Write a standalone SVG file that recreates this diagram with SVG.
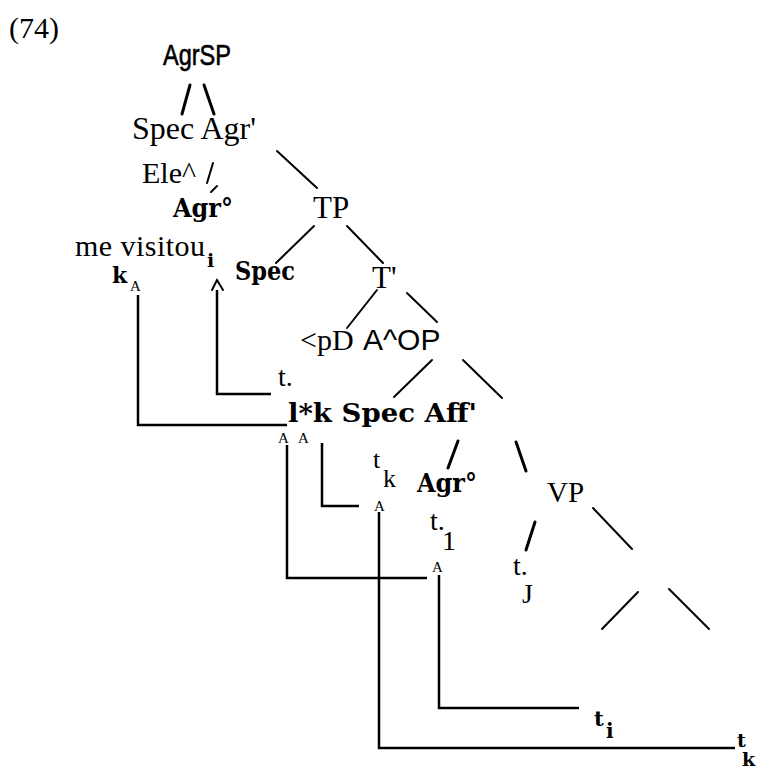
<svg xmlns="http://www.w3.org/2000/svg" width="764" height="774" viewBox="0 0 764 774">
<style>
.s{font-family:"Liberation Serif","Times New Roman",serif;fill:#000}
.a{font-family:"Liberation Sans",Arial,sans-serif;fill:#000}
.m{font-family:"DejaVu Serif","Liberation Serif",serif;font-weight:bold;fill:#000}
.e{stroke:#000;stroke-width:2;fill:none;stroke-linecap:round}
.t{stroke:#000;stroke-width:3;fill:none;stroke-linecap:round}
.b{stroke:#000;stroke-width:2.5;fill:none;stroke-linejoin:miter}
</style>
<rect width="764" height="774" fill="#fff"/>
<g id="label"><text class="s" x="9" y="38" font-size="30">(74)</text></g>
<g id="AgrSP"><text class="a" x="163" y="65" font-size="29" stroke="#000" stroke-width="0.6" textLength="68" lengthAdjust="spacingAndGlyphs">AgrSP</text></g>
<g id="SpecAgr"><text class="s" x="132" y="139" font-size="32">Spec Agr'</text></g>
<g id="Ele"><text class="s" x="142" y="183" font-size="30">Ele^</text></g>
<g id="Agr0a"><text class="m" x="173" y="217" font-size="26" textLength="60" lengthAdjust="spacingAndGlyphs">Agr°</text></g>
<g id="TP"><text class="s" x="313" y="218" font-size="31">TP</text></g>
<g id="mevisitou"><text class="s" x="75" y="256" font-size="30" textLength="130" lengthAdjust="spacing">me visitou</text><text class="m" x="207" y="267" font-size="19">i</text></g>
<g id="kA"><text class="m" x="112" y="283" font-size="22">k</text><text class="s" x="130" y="291" font-size="15">A</text></g>
<g id="Spec1"><text class="m" x="235" y="280" font-size="26" textLength="60" lengthAdjust="spacingAndGlyphs">Spec</text></g>
<g id="Tbar"><text class="s" x="372" y="288" font-size="31">T'</text></g>
<g id="pDAOP"><text class="s" x="300" y="350" font-size="30">&lt;pD</text><text class="a" x="363" y="350" font-size="30">A^OP</text></g>
<g id="t1"><text class="s" x="278" y="386" font-size="28">t.</text></g>
<g id="SpecAff"><text class="m" x="288" y="422" font-size="26" textLength="189" lengthAdjust="spacingAndGlyphs">l*k Spec Aff'</text></g>
<g id="AA"><text class="s" x="278" y="443" font-size="15">A</text><text class="s" x="298" y="443" font-size="15">A</text></g>
<g id="tk1"><text class="s" x="373" y="468" font-size="26">t</text><text class="s" x="383" y="487" font-size="26">k</text></g>
<g id="Agr0b"><text class="m" x="417" y="492" font-size="26" textLength="60" lengthAdjust="spacingAndGlyphs">Agr°</text></g>
<g id="A2"><text class="s" x="374" y="511" font-size="15">A</text></g>
<g id="VP"><text class="s" x="547" y="502" font-size="29">VP</text></g>
<g id="t1b"><text class="s" x="430" y="530" font-size="28">t.</text><text class="s" x="442" y="550" font-size="28">1</text></g>
<g id="A3"><text class="s" x="432" y="572" font-size="15">A</text></g>
<g id="tJ"><text class="s" x="513" y="575" font-size="28">t.</text><text class="s" x="522" y="603" font-size="28">J</text></g>
<g id="ti"><text class="m" x="594" y="726" font-size="21">t</text><text class="m" x="606" y="738" font-size="20">i</text></g>
<g id="tk2"><text class="m" x="737" y="747" font-size="19">t</text><text class="m" x="742" y="766" font-size="19">k</text></g>
<g id="connectors">
<line class="t" x1="190" y1="85" x2="182" y2="114"/>
<line class="t" x1="204" y1="85" x2="214" y2="114"/>
<line class="e" x1="277" y1="151" x2="317" y2="188"/>
<line class="e" x1="213" y1="163" x2="207" y2="183" stroke-width="1.5"/>
<line class="e" x1="217" y1="186" x2="211" y2="192" stroke-width="1.5"/>
<line class="e" x1="314" y1="226" x2="276" y2="263"/>
<line class="e" x1="347" y1="226" x2="383" y2="263"/>
<line class="e" x1="377" y1="290" x2="347" y2="328"/>
<line class="e" x1="407" y1="293" x2="437" y2="322"/>
<line class="e" x1="432" y1="360" x2="394" y2="397"/>
<line class="e" x1="463" y1="360" x2="502" y2="398"/>
<line class="t" x1="458" y1="441" x2="448" y2="468"/>
<line class="t" x1="516" y1="442" x2="526" y2="471"/>
<line class="t" x1="535" y1="522" x2="526" y2="550"/>
<line class="e" x1="593" y1="508" x2="632" y2="549"/>
<line class="e" x1="638" y1="592" x2="602" y2="629"/>
<line class="e" x1="669" y1="589" x2="709" y2="629"/>
<polyline class="e" stroke-width="1.5" points="212,290 217,280 223,290"/>
<polyline class="b" points="217,290 217,394 271,394"/>
<polyline class="b" points="138,295 138,425 287,425"/>
<polyline class="b" points="287,445 287,578 427,578"/>
<polyline class="b" points="322,443 322,506 359,506"/>
<polyline class="b" points="379,512 379,748 735,748"/>
<polyline class="b" points="439,575 439,708 579,708"/>
</g>
</svg>
